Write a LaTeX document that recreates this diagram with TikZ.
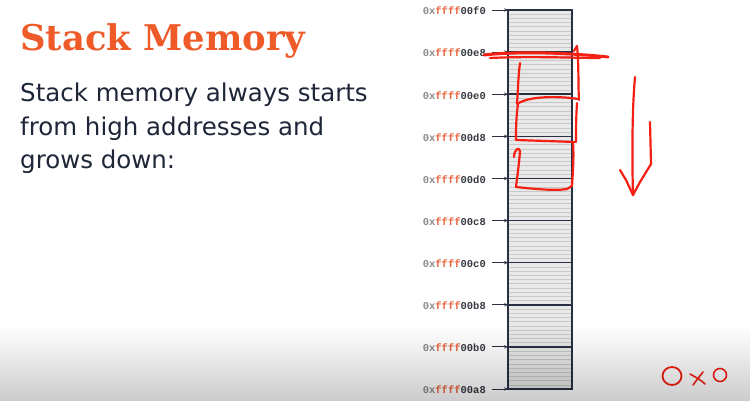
\documentclass[tikz,border=0pt]{standalone}
\usepackage{fontspec}
\usetikzlibrary{arrows.meta,fadings}
\newfontfamily\titlefont{DejaVu Serif}
\newfontfamily\bodyfont{DejaVu Sans}
\newfontfamily\addrfont{Liberation Mono}
\definecolor{titleorange}{RGB}{238,90,40}
\definecolor{bodyink}{RGB}{30,38,56}
\definecolor{addrgray}{RGB}{140,140,140}
\definecolor{addrorange}{RGB}{232,100,60}
\definecolor{addrdark}{RGB}{55,58,66}
\definecolor{cellfill}{RGB}{233,233,233}
\definecolor{stripe}{RGB}{200,200,200}
\definecolor{boxedge}{RGB}{40,48,66}
\definecolor{ink}{RGB}{245,32,20}
\tikzfading[name=fadebottom, top color=transparent!100, bottom color=transparent!0]
\newcommand{\addr}[1]{\textcolor{addrgray}{0x}\textcolor{addrorange}{ffff}\textcolor{addrdark}{#1}}
\begin{document}
\begin{tikzpicture}[x=1pt,y=-1pt,
  bodytext/.style={anchor=base west, inner sep=0pt, text=bodyink, font=\bodyfont\fontsize{24.5}{29}\selectfont},
  addrlabel/.style={anchor=east, inner sep=0pt, font=\addrfont\bfseries\fontsize{10.5}{12}\selectfont},
  ptr/.style={-{Stealth[length=4pt,width=3.4pt]}, line width=0.9pt, draw=boxedge, shorten <=6pt},
  boxline/.style={draw=boxedge, line width=1.6pt},
  pen/.style={draw=ink, line width=2.2pt, line cap=round, line join=round}]
\useasboundingbox (0,0) rectangle (751,401);
\fill[white] (0,0) rectangle (751,401);

% heading and text
\node[anchor=base west, inner sep=0pt, text=titleorange, font=\titlefont\bfseries\fontsize{35.4}{42}\selectfont] (title) at (20,51) {Stack Memory};
\node[bodytext] (body1) at (20,102) {Stack memory always starts};
\node[bodytext] (body2) at (20,135) {from high addresses and};
\node[bodytext] (body3) at (20,168) {grows down:};

% memory column with striped cells
\fill[cellfill] (508,10) rectangle (572,389);
\foreach \i in {1,...,89}
  \draw[stripe, line width=0.9pt] (509,10+\i*4.214) -- (571,10+\i*4.214);
\foreach [count=\k from 0] \lab in {00f0,00e8,00e0,00d8,00d0,00c8,00c0,00b8,00b0,00a8} {
  \coordinate (b\k) at (508,10+\k*42.11);
  \coordinate (r\k) at (572,10+\k*42.11);
  \node[addrlabel] (a\k) at (486,10+\k*42.11+1) {\addr{\lab}};
  \draw[boxline] (b\k) -- (r\k);
  \draw[ptr] (a\k.east |- b\k) -- (b\k);
}
\draw[boxline] (b0) rectangle (r9);

% hand-drawn annotations
\draw[pen, line width=3pt] (484,55) .. controls (520,51) and (570,53) .. (608,57);
\draw[pen] (490,58) .. controls (530,56) and (575,58) .. (600,58);
\draw[pen] (520,63) .. controls (518,78) and (518,92) .. (517,104);
\draw[pen] (574,51) -- (577,46) .. controls (579,65) and (578,85) .. (579,100);
\draw[pen] (519,103) .. controls (530,96) and (560,96) .. (578,99);
\draw[pen] (518,104) .. controls (516,118) and (516,130) .. (516,140) -- (575,142);
\draw[pen] (577,103) .. controls (576,118) and (576,130) .. (576,142);
\draw[pen] (514,157) .. controls (514,150) and (519,146) .. (520,151)
  .. controls (519,165) and (517,178) .. (516,187)
  .. controls (535,189) and (555,191) .. (567,189) -- (572,186)
  .. controls (573,170) and (574,155) .. (573,143);
\draw[pen] (635,77) .. controls (632,110) and (632,160) .. (633,195);
\draw[pen] (620,170) -- (626,180) -- (633,195) -- (640,182) -- (651,164);
\draw[pen] (650,122) -- (651,164);
\draw[pen, line width=1.8pt] (672,376) ellipse (9.5pt and 9pt);
\draw[pen, line width=1.6pt] (690,374) .. controls (697,378) and (701,380) .. (705,384)
  (703,372) .. controls (699,377) and (696,381) .. (693,385);
\draw[pen, line width=1.6pt] (720,375) ellipse (6.5pt and 6.5pt);

% soft darkening along the bottom edge
\fill[black, opacity=0.2, path fading=fadebottom] (0,325) rectangle (751,401);
\end{tikzpicture}
\end{document}
